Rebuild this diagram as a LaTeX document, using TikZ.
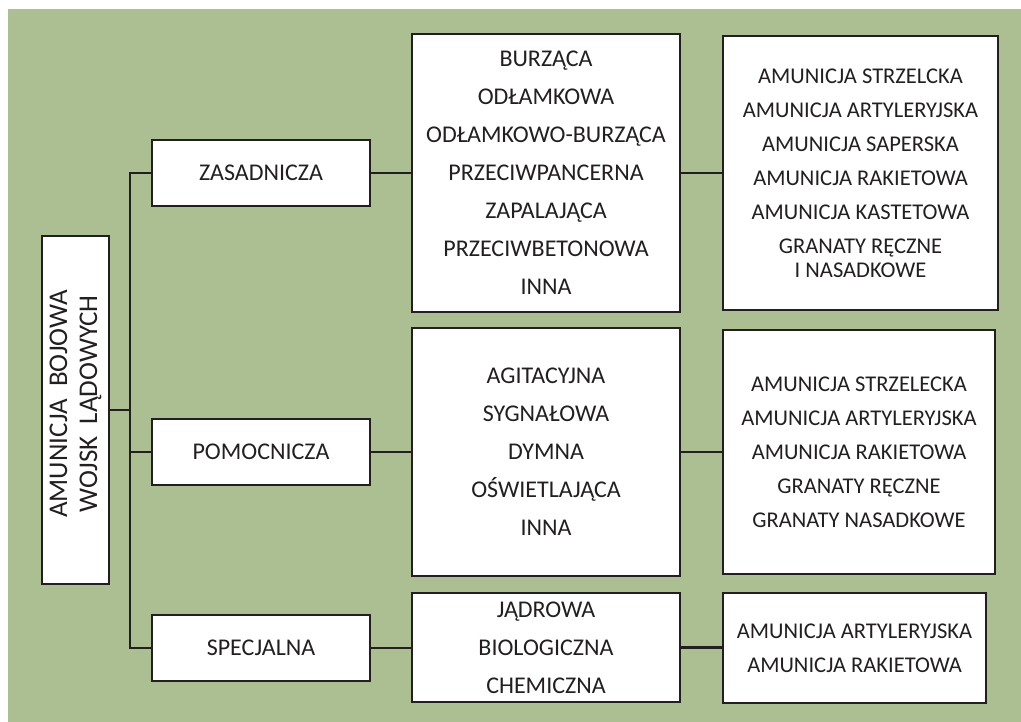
\documentclass[tikz,border=0pt]{standalone}
\usepackage{fontspec}
\setmainfont{Carlito}
\definecolor{ammogreen}{HTML}{ABBF93}
\definecolor{ammoline}{HTML}{231F20}
\tikzset{
  box/.style={draw=ammoline, line width=2.5pt, fill=white, inner sep=0pt, align=center, text=ammoline},
  kind/.style={box, minimum width=218pt, minimum height=66pt, font=\fontsize{24}{24}\selectfont},
  group/.style={box, minimum width=268pt, font=\fontsize{24}{24}\selectfont},
  usebox/.style={box, font=\fontsize{22.5}{24}\selectfont},
  link/.style={draw=ammoline, line width=2.6pt},
  trunk/.style={draw=ammoline, line width=2pt}
}

\begin{document}
\begin{tikzpicture}[x=1pt, y=-1pt]
\useasboundingbox (0,0) rectangle (1021,722);
\fill[ammogreen] (8,9) rectangle (1021,722);

% root
\node[box, rotate=90, minimum width=348pt, minimum height=67pt, font=\fontsize{27}{30}\selectfont] (root) at (75.5,410) {\hspace*{12pt}AMUNICJA\ \ BOJOWA\\\hspace*{12pt}WOJSK\ \ LĄDOWYCH};

% kinds
\node[kind] (zas) at (261,173) {ZASADNICZA};
\node[kind] (pom) at (261,452) {POMOCNICZA};
\node[kind] (spec) at (261,648) {SPECJALNA};

% purposes
\node[group, minimum height=278pt] (zas2) at (546,173) {BURZĄCA\\[14pt]ODŁAMKOWA\\[14pt]ODŁAMKOWO-BURZĄCA\\[14pt]PRZECIWPANCERNA\\[14pt]ZAPALAJĄCA\\[14pt]PRZECIWBETONOWA\\[14pt]INNA};
\node[group, minimum height=248pt] (pom2) at (546,452) {AGITACYJNA\\[14pt]SYGNAŁOWA\\[14pt]DYMNA\\[14pt]OŚWIETLAJĄCA\\[14pt]INNA};
\node[group, minimum height=109pt] (spec2) at (546,647.5) {JĄDROWA\\[14pt]BIOLOGICZNA\\[14pt]CHEMICZNA};

% types
\node[usebox, minimum width=275pt, minimum height=274pt] (zas3) at (860.5,173) {AMUNICJA STRZELCKA\\[10pt]AMUNICJA ARTYLERYJSKA\\[10pt]AMUNICJA SAPERSKA\\[10pt]AMUNICJA RAKIETOWA\\[10pt]AMUNICJA KASTETOWA\\[10pt]GRANATY RĘCZNE\\I NASADKOWE};
\node[usebox, minimum width=272pt, minimum height=244pt] (pom3) at (859,452) {AMUNICJA STRZELECKA\\[10pt]AMUNICJA ARTYLERYJSKA\\[10pt]AMUNICJA RAKIETOWA\\[10pt]GRANATY RĘCZNE\\[10pt]GRANATY NASADKOWE};
\node[usebox, minimum width=263pt, minimum height=110pt] (spec3) at (854.5,648) {AMUNICJA ARTYLERYJSKA\\[10pt]AMUNICJA RAKIETOWA};

% connectors
\path (zas.west) ++(-21,0) coordinate (fork);
\draw[trunk] (zas.west) -- (fork) |- (spec.west);
\draw[trunk] (pom.west) -- (pom.west -| fork);
\draw[trunk] (root.south) -- (root.south -| fork);

\draw[link] (zas.east) -- (zas.east -| zas2.west);
\draw[link] (pom.east) -- (pom.east -| pom2.west);
\draw[link] (spec.east) -- (spec.east -| spec2.west);
\draw[link] (zas2.east) -- (zas2.east -| zas3.west);
\draw[link] (pom2.east) -- (pom2.east -| pom3.west);
\draw[link] (spec2.east) -- (spec2.east -| spec3.west);
\end{tikzpicture}
\end{document}
